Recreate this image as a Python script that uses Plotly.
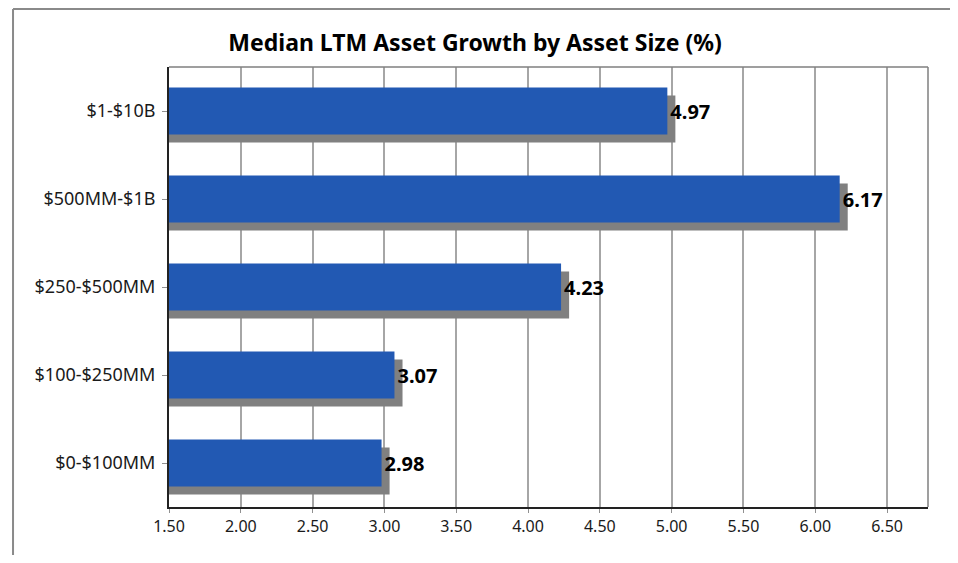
import plotly.graph_objects as go

# data (bottom to top as drawn)
categories = ["$0-$100MM", "$100-$250MM", "$250-$500MM", "$500MM-$1B", "$1-$10B"]
growth = [2.98, 3.07, 4.23, 6.17, 4.97]

BLUE = "#2259B3"
SHADOW = "#808080"
FONT = "Noto Sans"

# shadow sits a few pixels right / below the blue bar
shadow_shift = 0.056
shadow_x = [v + shadow_shift for v in growth]

fig = go.Figure()

fig.add_trace(go.Bar(
    x=shadow_x,
    y=categories,
    orientation="h",
    marker=dict(color=SHADOW, line=dict(width=0)),
    width=0.535,
    offset=-0.3585,
    hoverinfo="skip",
    showlegend=False
))

fig.add_trace(go.Bar(
    x=growth,
    y=categories,
    orientation="h",
    marker=dict(color=BLUE, line=dict(width=0)),
    width=0.535,
    offset=-0.2675,
    texttemplate="<b>%{x:.2f}</b>",
    textposition="outside",
    constraintext="none",
    cliponaxis=False,
    textfont=dict(family=FONT, size=20, color="black"),
    showlegend=False
))

fig.update_layout(
    width=942,
    height=547,
    barmode="overlay",
    margin=dict(l=161, r=22, t=59, b=48),
    plot_bgcolor="white",
    paper_bgcolor="white",
    font=dict(family=FONT, size=16, color="#1a1a1a"),
    title=dict(
        text="<b>Median LTM Asset Growth by Asset Size (%)</b>",
        x=0.4958, xanchor="center",
        y=0.936, yanchor="middle",
        font=dict(family=FONT, size=23, color="black")
    ),
    shapes=[
        # plot frame top/right
        dict(type="line", xref="paper", yref="paper", x0=0, x1=1, y0=1, y1=1,
             line=dict(color="#7f7f7f", width=1.5)),
        dict(type="line", xref="paper", yref="paper", x0=1, x1=1, y0=0, y1=1,
             line=dict(color="#7f7f7f", width=1.5)),
        # outer chart border (left + top)
        dict(type="line", xref="paper", yref="paper", x0=-0.2055, x1=1.03, y0=1.1318, y1=1.1318,
             line=dict(color="#8a8a8a", width=2)),
        dict(type="line", xref="paper", yref="paper", x0=-0.2055, x1=-0.2055, y0=-0.11, y1=1.1318,
             line=dict(color="#8a8a8a", width=2)),
    ]
)

fig.update_xaxes(
    range=[1.5, 6.785],
    tick0=1.5,
    dtick=0.5,
    tickformat=".2f",
    showgrid=True,
    gridcolor="#a6a6a6",
    gridwidth=2,
    showline=True,
    linecolor="#222222",
    linewidth=2,
    ticks="outside",
    ticklen=4,
    tickcolor="#909090",
    tickfont=dict(family=FONT, size=16, color="#1a1a1a"),
    zeroline=False,
    fixedrange=True
)

fig.update_yaxes(
    range=[-0.5, 4.5],
    showgrid=False,
    showline=True,
    linecolor="#222222",
    linewidth=2,
    ticks="outside",
    ticklen=5,
    tickcolor="#909090",
    tickfont=dict(family=FONT, size=18, color="#1a1a1a"),
    ticklabelstandoff=3,
    fixedrange=True
)

fig.write_html(
    "out.html",
    config={"displayModeBar": False},
    post_script="document.body.style.overflow='hidden';"
)
